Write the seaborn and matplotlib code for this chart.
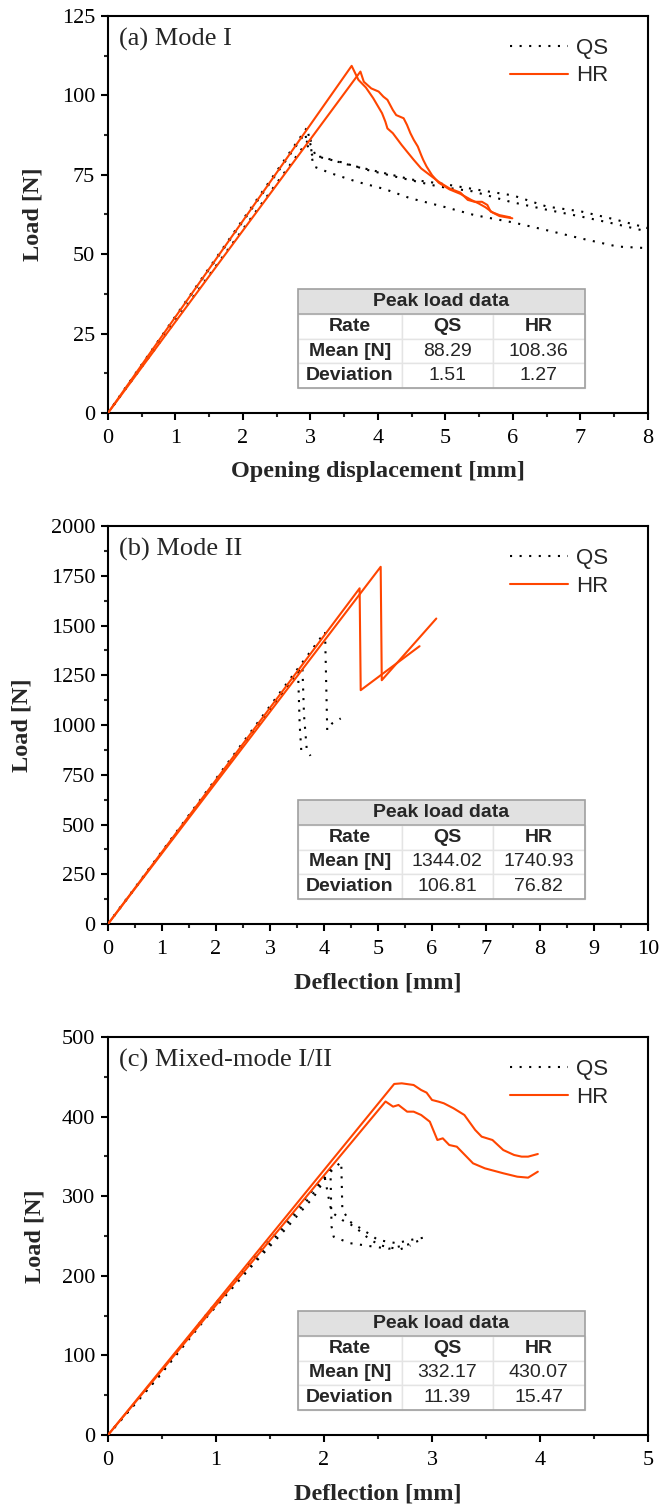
import numpy as np
import pandas as pd
import matplotlib
matplotlib.use("Agg")
import matplotlib.pyplot as plt
from matplotlib.lines import Line2D
from matplotlib.patches import Rectangle
from matplotlib.ticker import MultipleLocator, FormatStrFormatter
import seaborn as sns

# ---------------- data ----------------
# (a) Mode I : load vs opening displacement
a_qs1_x = [0, 2.95, 3.00, 3.08, 3.20, 3.45, 3.85, 4.30, 4.90, 5.40, 5.96, 6.50, 7.02, 7.50, 8.00]
a_qs1_y = [0, 89.9, 84.5, 81.0, 80.2, 79.0, 76.5, 74.2, 71.3, 69.8, 66.5, 64.0, 61.8, 59.6, 57.1]
a_qs2_x = [0, 2.92, 2.97, 3.05, 3.16, 3.50, 4.00, 4.50, 5.00, 5.50, 6.00, 6.50, 7.00, 7.50, 8.00]
a_qs2_y = [0, 88.1, 83.0, 80.5, 80.7, 78.5, 76.0, 73.5, 72.0, 70.2, 68.5, 65.0, 63.5, 61.0, 58.2]
a_qs3_x = [0, 3.00, 3.02, 3.05, 3.30, 3.69, 4.10, 4.48, 5.00, 5.43, 6.00, 6.49, 7.00, 7.55, 8.00]
a_qs3_y = [0, 86.9, 80.5, 77.6, 75.5, 72.8, 70.5, 67.6, 64.8, 62.3, 60.0, 57.6, 55.0, 52.4, 51.9]
a_hr1_x = [0, 3.61, 3.71, 3.82, 3.93, 4.06, 4.11, 4.14, 4.22, 4.35, 4.43, 4.53, 4.64, 4.77,
           4.90, 5.06, 5.22, 5.33, 5.43, 5.54, 5.62, 5.67, 5.80, 5.96]
a_hr1_y = [0, 109.3, 104.9, 102.5, 99.1, 94.4, 91.7, 89.6, 88.1, 84.4, 82.3, 79.7, 77.0, 74.9,
           72.8, 70.7, 69.4, 67.1, 66.5, 66.5, 65.5, 63.4, 62.3, 61.6]
a_hr2_x = [0, 3.74, 3.79, 3.90, 4.01, 4.08, 4.14, 4.22, 4.27, 4.38, 4.43, 4.48, 4.53, 4.59,
           4.64, 4.67, 4.72, 4.80, 4.90, 5.06, 5.22, 5.38, 5.49, 5.59, 5.70, 5.80, 5.99]
a_hr2_y = [0, 107.5, 104.3, 102.2, 101.2, 99.6, 98.6, 95.4, 93.8, 92.8, 90.7, 88.1, 86.0, 83.9,
           81.2, 79.7, 77.6, 74.9, 72.5, 70.4, 69.0, 67.1, 66.0, 64.8, 63.1, 62.0, 61.3]

# (b) Mode II : load vs deflection
b_qs1_x = [0, 4.02, 4.06, 4.15, 4.31]
b_qs1_y = [0, 1468, 974, 1008, 1033]
b_qs2_x = [0, 3.52, 3.55, 3.58, 3.62]
b_qs2_y = [0, 1270, 1000, 870, 860]
b_qs3_x = [0, 3.60, 3.63, 3.68, 3.75]
b_qs3_y = [0, 1295, 1050, 880, 845]
b_hr1_x = [0, 4.66, 4.68, 5.77]
b_hr1_y = [0, 1687, 1175, 1396]
b_hr2_x = [0, 5.05, 5.07, 6.08]
b_hr2_y = [0, 1795, 1225, 1535]

# (c) Mixed-mode I/II : load vs deflection
c_qs1_x = [0, 0.47, 0.92, 1.35, 1.64, 1.91, 2.10, 2.16, 2.17, 2.24, 2.37, 2.50, 2.67, 2.80, 2.97]
c_qs1_y = [0, 75, 153, 222, 266, 310, 336, 343, 283, 268, 257, 245, 241, 245, 249]
c_qs2_x = [0, 0.47, 0.92, 1.35, 1.64, 1.91, 2.06, 2.07, 2.09, 2.24, 2.44, 2.60, 2.77, 2.90]
c_qs2_y = [0, 74, 151, 218, 262, 305, 333, 262, 249, 241, 237, 234, 239, 245]
c_qs3_x = [0, 0.47, 0.92, 1.35, 1.64, 1.91, 2.01, 2.04, 2.07, 2.17, 2.28, 2.43, 2.53, 2.70, 2.80]
c_qs3_y = [0, 73, 149, 215, 258, 300, 322, 300, 280, 270, 262, 245, 238, 233, 238]
c_hr1_x = [0, 2.65, 2.72, 2.83, 2.90, 2.95, 3.00, 3.06, 3.11, 3.20, 3.30, 3.40, 3.46, 3.56,
           3.66, 3.76, 3.83, 3.89, 3.98]
c_hr1_y = [0, 441.0, 441.8, 439.7, 433.4, 430.1, 420.9, 418.8, 416.7, 410.4, 402.0, 383.2,
           374.8, 370.6, 358.0, 351.8, 349.7, 349.7, 353.0]
c_hr2_x = [0, 2.57, 2.64, 2.69, 2.77, 2.83, 2.90, 2.98, 3.05, 3.10, 3.16, 3.23, 3.38, 3.49,
           3.66, 3.79, 3.89, 3.98]
c_hr2_y = [0, 419.0, 412.5, 414.6, 406.2, 406.2, 402.0, 393.6, 370.6, 372.7, 364.3, 362.2,
           341.3, 335.0, 328.8, 324.5, 323.3, 330.8]

# peak-load summary tables
rates = ["QS", "HR"]
a_mean = [88.29, 108.36]
a_dev = [1.51, 1.27]
b_mean = [1344.02, 1740.93]
b_dev = [106.81, 76.82]
c_mean = [332.17, 430.07]
c_dev = [11.39, 15.47]

titles = ["(a) Mode I", "(b) Mode II", "(c) Mixed-mode I/II"]
xlabels = ["Opening displacement [mm]", "Deflection [mm]", "Deflection [mm]"]

# ---------------- style ----------------
sns.set_style("ticks")
plt.rcParams["font.family"] = ["Liberation Serif", "DejaVu Serif"]

HR_COLOR = "#ff4500"
QS_DASH = (1, 3.6)
LW = 1.5
SANS = ["Liberation Sans", "DejaVu Sans"]


def long_frame(curves):
    rows = []
    for rate, name, xs, ys in curves:
        for x, y in zip(xs, ys):
            rows.append((rate, name, x, y))
    return pd.DataFrame(rows, columns=["rate", "specimen", "disp", "load"])


panels = [
    dict(curves=[("QS", "qs1", a_qs1_x, a_qs1_y), ("QS", "qs2", a_qs2_x, a_qs2_y),
                 ("QS", "qs3", a_qs3_x, a_qs3_y), ("HR", "hr1", a_hr1_x, a_hr1_y),
                 ("HR", "hr2", a_hr2_x, a_hr2_y)],
         xlim=(0, 8), ylim=(0, 125), xmaj=1, xmin=0.5, ymaj=25, ymin=12.5,
         mean=a_mean, dev=a_dev, ylab_x=-0.139),
    dict(curves=[("QS", "qs1", b_qs1_x, b_qs1_y), ("QS", "qs2", b_qs2_x, b_qs2_y),
                 ("QS", "qs3", b_qs3_x, b_qs3_y), ("HR", "hr1", b_hr1_x, b_hr1_y),
                 ("HR", "hr2", b_hr2_x, b_hr2_y)],
         xlim=(0, 10), ylim=(0, 2000), xmaj=1, xmin=0.5, ymaj=250, ymin=125,
         mean=b_mean, dev=b_dev, ylab_x=-0.159),
    dict(curves=[("QS", "qs1", c_qs1_x, c_qs1_y), ("QS", "qs2", c_qs2_x, c_qs2_y),
                 ("QS", "qs3", c_qs3_x, c_qs3_y), ("HR", "hr1", c_hr1_x, c_hr1_y),
                 ("HR", "hr2", c_hr2_x, c_hr2_y)],
         xlim=(0, 5), ylim=(0, 500), xmaj=1, xmin=0.5, ymaj=100, ymin=50,
         mean=c_mean, dev=c_dev, ylab_x=-0.135),
]

fig = plt.figure(figsize=(6.6, 15.07), dpi=100)
axes_rects = [
    [0.1636, 0.72595, 0.8182, 0.26344],
    [0.1636, 0.38686, 0.8182, 0.2641],
    [0.1636, 0.04778, 0.8182, 0.2641],
]


def fmt(v):
    return f"{v:.2f}"


def draw_table(ax, mean, dev):
    x0, w = 0.351, 0.532
    y0, hb, hh = 0.063, 0.186, 0.063
    colw = [0.363, 0.317, 0.320]
    header = ax.table(cellText=[["Peak load data"]], cellLoc="center",
                      bbox=[x0, y0 + hb, w, hh], zorder=5)
    body = ax.table(cellText=[["Rate"] + rates,
                              ["Mean [N]"] + [fmt(v) for v in mean],
                              ["Deviation"] + [fmt(v) for v in dev]],
                    cellLoc="center", colWidths=[c * w for c in colw],
                    bbox=[x0, y0, w, hb], zorder=5)
    for tb in (header, body):
        tb.auto_set_font_size(False)
        tb.set_fontsize(14)
    for (r, c), cell in header.get_celld().items():
        cell.set_facecolor("#e1e1e1")
        cell.set_edgecolor("#e1e1e1")
        cell.set_linewidth(0)
        cell.get_text().set_fontweight("bold")
        cell.get_text().set_fontfamily(SANS)
    for (r, c), cell in body.get_celld().items():
        cell.set_facecolor("white")
        cell.set_edgecolor("#e4e4e4")
        cell.set_linewidth(1.0)
        t = cell.get_text()
        t.set_fontfamily(SANS)
        if r == 0 or c == 0:
            t.set_fontweight("bold")
    # separator under the header and the outer frame
    ax.plot([x0, x0 + w], [y0 + hb, y0 + hb], transform=ax.transAxes,
            color="#a8a8a8", lw=1.2, zorder=7, solid_capstyle="butt")
    ax.add_patch(Rectangle((x0, y0), w, hb + hh, transform=ax.transAxes,
                           fill=False, edgecolor="#a0a0a0", lw=1.2, zorder=8))


for i, p in enumerate(panels):
    ax = fig.add_axes(axes_rects[i])
    df = long_frame(p["curves"])
    sns.lineplot(data=df, x="disp", y="load", hue="rate", style="rate",
                 units="specimen", estimator=None, sort=False,
                 palette={"QS": "black", "HR": HR_COLOR},
                 dashes={"QS": QS_DASH, "HR": ""},
                 linewidth=LW, legend=False, ax=ax, zorder=3)
    ax.set_xlim(*p["xlim"])
    ax.set_ylim(*p["ylim"])
    ax.xaxis.set_major_locator(MultipleLocator(p["xmaj"]))
    ax.xaxis.set_minor_locator(MultipleLocator(p["xmin"]))
    ax.yaxis.set_major_locator(MultipleLocator(p["ymaj"]))
    ax.yaxis.set_minor_locator(MultipleLocator(p["ymin"]))
    ax.xaxis.set_major_formatter(FormatStrFormatter("%g"))
    ax.yaxis.set_major_formatter(FormatStrFormatter("%g"))
    for s in ax.spines.values():
        s.set_linewidth(1.5)
        s.set_color("black")
    ax.tick_params(which="major", direction="out", length=5.2, width=1.5,
                   labelsize=16, pad=4, colors="black")
    ax.tick_params(axis="x", which="major", pad=6)
    ax.tick_params(which="minor", direction="out", length=2.6, width=1.5)

    ax.set_xlabel(xlabels[i], fontsize=17.5, fontweight="bold")
    ax.set_ylabel("Load [N]", fontsize=17.5, fontweight="bold")
    ax.xaxis.label.set_va("center")
    ax.yaxis.label.set_va("center")
    ax.xaxis.set_label_coords(0.5, -0.147)
    ax.yaxis.set_label_coords(p["ylab_x"], 0.5)

    ax.text(0.02, 0.94, titles[i], transform=ax.transAxes, fontsize=19,
            ha="left", va="center", zorder=6)

    handles = [Line2D([], [], color="black", lw=LW, dashes=QS_DASH),
               Line2D([], [], color=HR_COLOR, lw=LW)]
    ax.legend(handles, rates, loc="upper right", bbox_to_anchor=(0.926, 0.945),
              frameon=False, borderpad=0, borderaxespad=0, handlelength=2.6,
              handletextpad=0.35, labelspacing=0.3,
              prop={"family": SANS, "size": 16})

    draw_table(ax, p["mean"], p["dev"])

fig.savefig("out.png", dpi=100)
